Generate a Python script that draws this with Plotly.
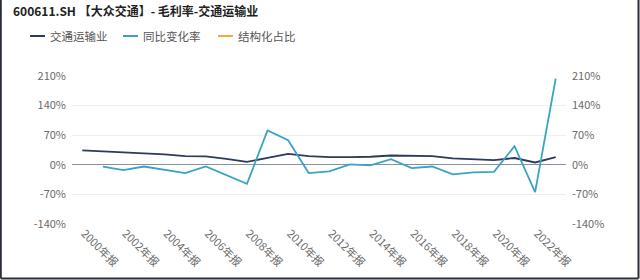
import plotly.graph_objects as go

years = [f"{y}年报" for y in range(2000, 2024)]
industry = [34, 32, 29, 28, 24.5, 20.5, 20, 14, 7, 16.5, 26, 20.5, 18, 18, 19, 22, 21, 20.5, 15, 12.5, 11, 16, 5.5, 18]
yoy = [None, -4.5, -12.5, -4, -11, -19.5, -4, -24, -45, 81, 58, -19.5, -15.5, 1, -1.5, 13.5, -8, -4, -22.5, -18, -16.5, 44, -64.5, 204]
tick_vals = [-140, -70, 0, 70, 140, 210]
tick_text = [f"{v}%" for v in tick_vals]
x_ticks = years[::2]
series_names = ["交通运输业", "同比变化率", "结构化占比"]
series_colors = ["#2d3a5a", "#3aa3c4", "#f5a843"]

FONT = "Noto Sans CJK SC"
L, R, T, B = 72, 74, 76, 56
PW, PH = 640 - L - R, 280 - T - B

def px(x):
    return (x - L) / PW

def py(y):
    return (280 - B - y) / PH

fig = go.Figure()
fig.add_trace(go.Scatter(x=years, y=industry, name=series_names[0], mode="lines",
                         line=dict(color=series_colors[0], width=1.8)))
fig.add_trace(go.Scatter(x=years, y=yoy, name=series_names[1], mode="lines",
                         line=dict(color=series_colors[1], width=1.8), yaxis="y2"))

axis_font = dict(family=FONT, size=11, color="#6a6a6a")
fig.update_layout(
    width=640, height=280,
    margin=dict(l=L, r=R, t=T, b=B),
    paper_bgcolor="white", plot_bgcolor="white",
    font=dict(family=FONT),
    showlegend=False,
    title=dict(text="<b>600611.SH 【大众交通】- 毛利率-交通运输业</b>",
               xref="container", yref="container", x=13/640, y=1-12/280,
               xanchor="left", yanchor="middle",
               font=dict(family=FONT, size=12, color="#222222")),
    xaxis=dict(type="category", categoryorder="array", categoryarray=years,
               range=[-0.5, len(years) - 0.5],
               tickvals=x_ticks, ticktext=x_ticks, tickangle=45, ticklabelshift=2,
               showgrid=False, showline=False, ticks="", tickfont=axis_font),
    yaxis=dict(range=[-140, 210], tickvals=tick_vals, ticktext=tick_text,
               showgrid=True, gridcolor="#eeeeee", gridwidth=1,
               zeroline=True, zerolinecolor="#8a909c", zerolinewidth=1,
               tickfont=axis_font, ticks="", showline=False, ticklabelstandoff=5),
    yaxis2=dict(range=[-140, 210], tickvals=tick_vals, ticktext=tick_text,
                overlaying="y", side="right", showgrid=False, zeroline=False,
                tickfont=axis_font, ticks="", showline=False, ticklabelstandoff=5),
)

# manual legend
leg_x = [30, 123, 218]
for name, color, x0 in zip(series_names, series_colors, leg_x):
    fig.add_shape(type="line", xref="paper", yref="paper",
                  x0=px(x0), x1=px(x0 + 15), y0=py(36), y1=py(36),
                  line=dict(color=color, width=2))
    fig.add_annotation(text=name, xref="paper", yref="paper", x=px(x0 + 18), y=py(36),
                       xanchor="left", yanchor="middle", showarrow=False,
                       font=dict(family=FONT, size=11.5, color="#555555"))

# screenshot frame lines
ytop = py(0)
ybot = py(278.5)
xl = px(0.8)
xr = px(638.5)
for x0, y0, x1, y1 in [(xl, ytop, xl, ybot), (xl, ybot, xr, ybot), (xr, ytop, xr, ybot)]:
    fig.add_shape(type="line", xref="paper", yref="paper", x0=x0, y0=y0, x1=x1, y1=y1,
                  line=dict(color="#2a2e38", width=2))

fig.write_html("out.html")
